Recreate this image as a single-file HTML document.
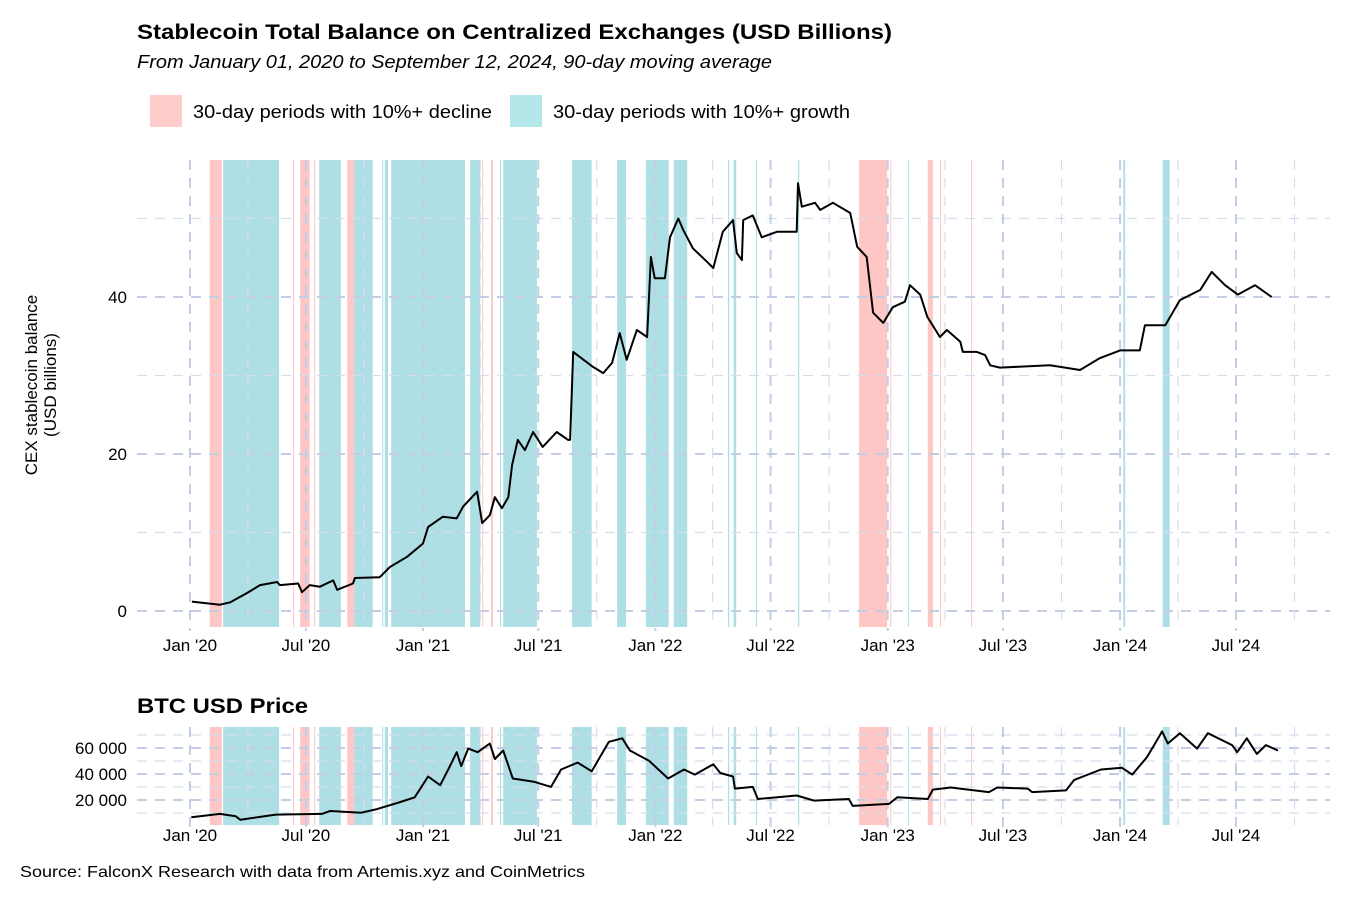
<!DOCTYPE html>
<html><head><meta charset="utf-8"><style>
body{margin:0;background:#fff;width:1350px;height:900px;overflow:hidden;font-family:"Liberation Sans",Arial,sans-serif}
svg text{font-family:"Liberation Sans",Arial,sans-serif}
</style></head><body>
<svg id="chart" width="1350" height="900" viewBox="0 0 1350 900">
<text x="137" y="39" font-size="21" font-weight="bold" textLength="755" lengthAdjust="spacingAndGlyphs">Stablecoin Total Balance on Centralized Exchanges (USD Billions)</text>
<text x="137" y="68" font-size="18" font-style="italic" textLength="635" lengthAdjust="spacingAndGlyphs">From January 01, 2020 to September 12, 2024, 90-day moving average</text>
<g>
<rect x="150" y="95" width="32" height="32" fill="#ffcccc"/>
<text x="193" y="118" font-size="18" textLength="299" lengthAdjust="spacingAndGlyphs">30-day periods with 10%+ decline</text>
<rect x="510" y="95" width="32" height="32" fill="#b5e6ea"/>
<text x="553" y="118" font-size="18" textLength="297" lengthAdjust="spacingAndGlyphs">30-day periods with 10%+ growth</text>
</g>
<g id="topPanel"></g>
<g id="botPanel"></g>
<text x="137" y="713" font-size="21" font-weight="bold" textLength="171" lengthAdjust="spacingAndGlyphs">BTC USD Price</text>
<text transform="translate(37,385) rotate(-90)" text-anchor="middle" font-size="17"><tspan x="0" dy="0">CEX stablecoin balance</tspan><tspan x="0" dy="19">(USD billions)</tspan></text>
<text x="20" y="877" font-size="16" textLength="565" lengthAdjust="spacingAndGlyphs">Source: FalconX Research with data from Artemis.xyz and CoinMetrics</text>
</svg>
<script>
// day offsets from 2020-01-01
const declineStart=[31,162,173,195,247,459,473,1051,1100,1159,1178,1227];
const declineEnd  =[50,163,188,196,258,460,476,1095,1101,1167,1179,1228];
const growthStart=[52,203,258,302,306,316,440,487,492,600,671,716,760,845,854,889,955,1128,1466,1528];
const growthEnd  =[140,237,287,303,311,432,456,488,545,631,685,752,781,847,858,890,957,1129,1469,1539];
const stableDays=[3,47,63,90,110,137,141,170,176,188,204,225,231,256,259,298,314,341,366,374,397,419,429,451,459,471,479,490,500,506,515,526,539,554,576,594,597,602,633,649,663,675,686,702,718,724,730,746,754,767,775,790,812,822,837,853,859,867,869,884,898,922,953,955,961,982,990,1010,1037,1048,1063,1073,1089,1104,1123,1131,1147,1158,1178,1189,1210,1214,1236,1249,1257,1272,1351,1398,1429,1461,1492,1500,1532,1555,1587,1605,1626,1646,1673,1699];
const stableVals=[1.2,0.8,1.1,2.3,3.3,3.7,3.3,3.5,2.4,3.3,3.1,3.9,2.7,3.5,4.2,4.3,5.6,6.9,8.6,10.7,12.0,11.8,13.3,15.2,11.2,12.2,14.5,13.1,14.5,18.6,21.8,20.5,22.8,20.9,22.8,21.8,21.8,33.0,31.1,30.3,31.6,35.4,32.0,35.8,34.9,45.1,42.4,42.4,47.6,50.0,48.5,46.2,44.5,43.7,48.3,49.8,45.6,44.7,49.8,50.4,47.6,48.3,48.3,54.5,51.5,52.0,51.1,52.0,50.7,46.4,45.1,38.0,36.7,38.7,39.4,41.5,40.3,37.5,34.9,35.8,34.3,33.0,33.0,32.6,31.3,31.0,31.3,30.7,32.2,33.2,33.2,36.4,36.4,39.6,40.9,43.2,41.5,40.3,41.5,40.0];
const btcDays=[2,47,72,79,135,207,220,269,292,328,353,374,393,407,419,426,437,452,471,479,492,507,540,567,583,609,631,658,679,691,721,751,776,793,822,833,853,856,884,892,953,980,1035,1041,1098,1111,1159,1167,1195,1255,1268,1316,1323,1376,1389,1431,1464,1480,1503,1516,1527,1536,1555,1582,1599,1637,1645,1660,1676,1690,1709];
const btcVals=[6.7,9.3,7.5,4.8,8.8,9.3,11.5,10.2,12.8,18.1,22.1,38.1,31.4,44.8,56.8,46.1,59.5,56.8,63.5,51.5,58.1,36.5,34.1,30.1,43.5,48.8,42.1,64.8,67.5,58.1,50.2,36.5,43.5,39.5,47.5,40.8,38.1,28.8,30.1,20.8,23.5,19.5,20.8,15.5,17,22.1,20.8,28,29.6,26.1,29.6,28.8,26.1,27.4,35.5,43.5,44.8,39.5,52.8,63.5,72.8,63.5,71.4,59.5,71.4,62.2,56.8,67.5,55.5,62.2,58.1]; // thousands USD
const yTicksTop=[0,20,40];
const yTicksBot=[20000,40000,60000];
const NS='http://www.w3.org/2000/svg';
const X=d=>190+d*0.6366;
const Yt=v=>611-v*7.85;
const Yb=v=>826-v*1.3; // v in thousands
function mk(tag,attrs,parent){const e=document.createElementNS(NS,tag);for(const k in attrs)e.setAttribute(k,attrs[k]);parent.appendChild(e);return e;}
const dayOf=(y,m)=>Math.round((Date.UTC(y,m,1)-Date.UTC(2020,0,1))/86400000);
function panel(g,y0,y1,yfun,majors,minors,labels,xlabY){
  for(let i=0;i<declineStart.length;i++){
    const r=mk('rect',{x:X(declineStart[i]),y:y0,width:Math.max(1,X(declineEnd[i])-X(declineStart[i])),height:y1-y0,fill:'#ffc6c6'},g);
    
    
  }
  for(let i=0;i<growthStart.length;i++){
    const r=mk('rect',{x:X(growthStart[i]),y:y0,width:Math.max(1,X(growthEnd[i])-X(growthStart[i])),height:y1-y0,fill:'#addfe4'},g);
    
    
  }
  minors.forEach(v=>{const l=mk('line',{x1:137,x2:1330,y1:yfun(v),y2:yfun(v),stroke:'#d6dded','stroke-width':1.2,'stroke-dasharray':'10 8'},g);
    
    });
  majors.forEach((v,i)=>{const l=mk('line',{x1:137,x2:1330,y1:yfun(v),y2:yfun(v),stroke:'#c3cde4','stroke-width':2,'stroke-dasharray':'10 8'},g);
    
    
    const t=mk('text',{x:127,y:yfun(v)+6,'text-anchor':'end','font-size':17},g);t.textContent=labels[i];
    
    });
  for(let y=2020;y<=2024;y++){for(let m=0;m<12;m+=3){
    const d=dayOf(y,m);const x=X(d);if(x>1300)continue;
    const major=(m%6===0);
    const l=mk('line',{x1:x,x2:x,y1:y0,y2:y1+(major?4:0),stroke:major?'#c3cde4':'#d6dded','stroke-width':major?2:1.2,'stroke-dasharray':'10 8'},g);
    
    
    if(major){const t=mk('text',{x:x,y:xlabY,'text-anchor':'middle','font-size':17},g);
      t.textContent=(m===0?'Jan':'Jul')+" '"+String(y).slice(2);
      
      }
  }}
}
const gTop=document.getElementById('topPanel'),gBot=document.getElementById('botPanel');
panel(gTop,160,627,Yt,yTicksTop,[10,30,50],yTicksTop.map(String),651);
panel(gBot,727,825,v=>Yb(v/1000),yTicksBot,[10000,30000,50000,70000],['60 000'].length?['20 000','40 000','60 000']:[],841);
const p1=mk('path',{d:stableDays.map((d,i)=>(i?'L':'M')+X(d).toFixed(1)+','+Yt(stableVals[i]).toFixed(1)).join(''),fill:'none',stroke:'#000','stroke-width':2,'stroke-linejoin':'round'},gTop);


const p2=mk('path',{d:btcDays.map((d,i)=>(i?'L':'M')+X(d).toFixed(1)+','+Yb(btcVals[i]).toFixed(1)).join(''),fill:'none',stroke:'#000','stroke-width':2,'stroke-linejoin':'round'},gBot);


</script>
</body></html>
